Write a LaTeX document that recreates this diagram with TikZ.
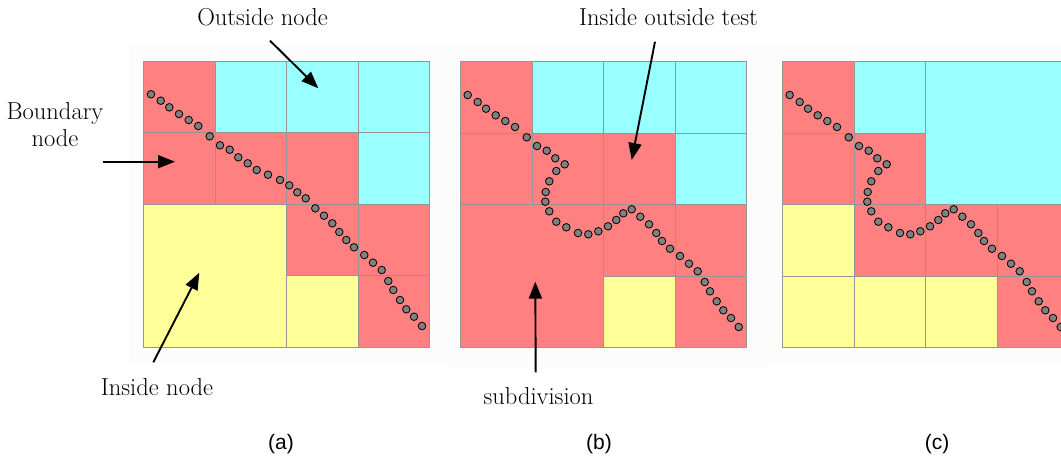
\documentclass[tikz,border=0pt]{standalone}
\usepackage{fontspec}
\newfontfamily\capfont{Liberation Sans}
\usetikzlibrary{arrows.meta}

\definecolor{cellred}{RGB}{255,128,128}
\definecolor{cellcyan}{RGB}{153,255,255}
\definecolor{cellyellow}{RGB}{255,255,153}
\definecolor{gridgray}{RGB}{150,150,150}
\definecolor{dotgray}{RGB}{128,128,128}
\definecolor{panelbg}{RGB}{252,252,252}

\tikzset{
  cellbox/.style={draw=gridgray, line width=1pt},
  sampledot/.style={fill=dotgray, draw=black, line width=0.8pt},
  label/.style={font=\fontsize{24.5}{27.3}\selectfont, inner sep=0pt, anchor=base, align=center},
  caption/.style={font=\capfont\fontsize{21}{24}\selectfont, inner sep=0pt, anchor=base},
  callout/.style={line width=1.9pt, -{Triangle[length=17pt,width=13pt]}},
}

% one quadtree cell: column, row, size (in cells), fill colour
\newcommand\qtcell[4]{\filldraw[cellbox, fill=#4] (#1,#2) rectangle ++(#3,#3);}

\begin{document}
\begin{tikzpicture}[x=1pt,y=-1pt]
\useasboundingbox (0,0) rectangle (1061,458);
\clip (0,0) rectangle (1061,458);

% faint panel backgrounds
\fill[panelbg] (129,45) rectangle (446,364);
\fill[panelbg] (446,45) rectangle (768,368);
\fill[panelbg] (768,45) rectangle (1061,364);

% (a) quadtree
\begin{scope}[shift={(143.5,61)}, x=71.5pt, y=-71.5pt]
  \qtcell{0}{0}{1}{cellred}  \qtcell{1}{0}{1}{cellcyan}
  \qtcell{0}{1}{1}{cellred}  \qtcell{1}{1}{1}{cellred}
  \qtcell{2}{0}{1}{cellcyan} \qtcell{3}{0}{1}{cellcyan}
  \qtcell{2}{1}{1}{cellred}  \qtcell{3}{1}{1}{cellcyan}
  \qtcell{0}{2}{2}{cellyellow}
  \qtcell{2}{2}{1}{cellred}  \qtcell{3}{2}{1}{cellred}
  \qtcell{2}{3}{1}{cellyellow} \qtcell{3}{3}{1}{cellred}
\end{scope}

% (b) quadtree
\begin{scope}[shift={(460.5,61.5)}, x=71.5pt, y=-71.5pt]
  \qtcell{0}{0}{1}{cellred}  \qtcell{1}{0}{1}{cellcyan}
  \qtcell{0}{1}{1}{cellred}  \qtcell{1}{1}{1}{cellred}
  \qtcell{2}{0}{1}{cellcyan} \qtcell{3}{0}{1}{cellcyan}
  \qtcell{2}{1}{1}{cellred}  \qtcell{3}{1}{1}{cellcyan}
  \qtcell{0}{2}{2}{cellred}
  \qtcell{2}{2}{1}{cellred}  \qtcell{3}{2}{1}{cellred}
  \qtcell{2}{3}{1}{cellyellow} \qtcell{3}{3}{1}{cellred}
\end{scope}

% (c) quadtree
\begin{scope}[shift={(782.5,61.5)}, x=71.5pt, y=-71.5pt]
  \qtcell{0}{0}{1}{cellred}  \qtcell{1}{0}{1}{cellcyan}
  \qtcell{0}{1}{1}{cellred}  \qtcell{1}{1}{1}{cellred}
  \qtcell{2}{0}{2}{cellcyan}
  \qtcell{0}{2}{1}{cellyellow} \qtcell{1}{2}{1}{cellred}
  \qtcell{0}{3}{1}{cellyellow} \qtcell{1}{3}{1}{cellyellow}
  \qtcell{2}{2}{1}{cellred}  \qtcell{3}{2}{1}{cellred}
  \qtcell{2}{3}{1}{cellyellow} \qtcell{3}{3}{1}{cellred}
\end{scope}

% boundary samples, straight line
\foreach \p in {(151,94.3),(160.7,100.7),(169.3,107.3),(179,114),(188.7,120),(198.3,126),
  (209.7,136.3),(220,145.3),(229.7,149.7),(238.3,157.3),(247.7,163.3),(256.7,170),
  (268,174.7),(280,180),(289.3,185.3),(297.3,192.3),(305.7,198.3),(315.3,208.3),
  (324,215.7),(332.3,223.3),(339.3,232),(346.3,240),(354,247.3),(364.3,255),
  (373,262.7),(381.7,270),(388.3,281),(393.3,290),(400,300),(406.3,309.3),
  (414,316.7),(422,326)}
  \filldraw[sampledot] \p circle (3.8);

% boundary samples, curved line (panels b and c)
\foreach \dx in {0,322}
  \foreach \p in {(467.7,95),(477.7,102),(486,108.7),(495.7,115.3),(505.3,121),(515,127),
    (526.7,137.3),(537,146),(546.7,150.7),(555.3,158.3),(564.7,164.3),(556.3,171),
    (549.3,181.3),(545.7,192),(545.3,201.7),(549.3,211.3),(556.3,221.7),(566.3,227.3),
    (578,233),(588.3,234.3),(598.3,231.3),(608,226.3),(616.3,220),(623.3,213.3),
    (631.7,209.3),(640.3,216.7),(649,224.3),(656.3,233),(662,241),(670,248.7),
    (680,256),(689,263.7),(697.7,271.3),(704.7,282),(710,291.3),(716.7,301.3),
    (723.3,310.3),(731,318),(738.7,327)}
    \filldraw[sampledot, xshift=\dx pt] \p circle (3.8);

% labels
\node[label] (outside) at (262.5,25) {Outside node};
\node[label] (boundary) at (55,146.7) {Boundary\\node};
\node[label] (inside) at (157,395) {Inside node};
\node[label] (iotest) at (668.5,25) {Inside outside test};
\node[label] (subdiv) at (538.5,404) {subdivision};

\node[caption] (capa) at (281,449) {(a)};
\node[caption] (capb) at (599,449) {(b)};
\node[caption] (capc) at (937,449) {(c)};

% callout ends
\coordinate (outsideFrom) at (270,40.7);   \coordinate (outsideTo) at (318.3,88.3);
\coordinate (boundaryFrom) at (102.7,161.7); \coordinate (boundaryTo) at (175,161.7);
\coordinate (insideFrom) at (153.3,362.3); \coordinate (insideTo) at (199.3,272.7);
\coordinate (iotestFrom) at (655,41.7);    \coordinate (iotestTo) at (631.7,160);
\coordinate (subdivFrom) at (535.7,372.3); \coordinate (subdivTo) at (535.3,281.7);

\draw[callout] (outsideFrom) -- (outsideTo);
\draw[callout] (boundaryFrom) -- (boundaryTo);
\draw[callout] (insideFrom) -- (insideTo);
\draw[callout] (iotestFrom) -- (iotestTo);
\draw[callout] (subdivFrom) -- (subdivTo);
\end{tikzpicture}
\end{document}
